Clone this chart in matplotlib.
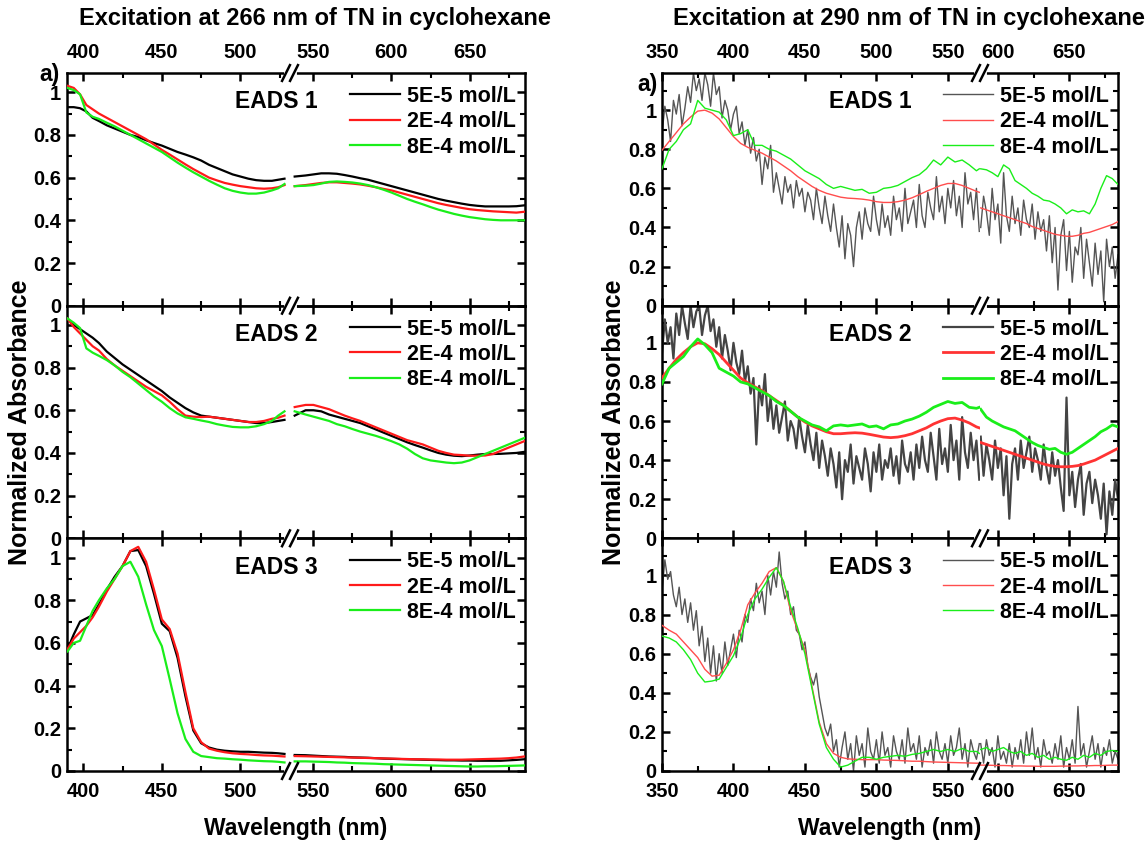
import numpy as np
import matplotlib
matplotlib.use("Agg")
import matplotlib.pyplot as plt
from matplotlib.lines import Line2D
from matplotlib.ticker import FixedLocator, MultipleLocator, FuncFormatter

plt.rcParams['font.family'] = ['Liberation Sans', 'DejaVu Sans']
plt.rcParams['font.weight'] = 'bold'

# ---------------------------------------------------------------------------
# Data: excitation at 266 nm (left column)
# ---------------------------------------------------------------------------
wl266_a = [390, 394, 398, 402, 406, 410, 415, 420, 425, 430, 435, 440, 445, 450, 455,
           460, 465, 470, 475, 480, 485, 490, 495, 500, 505, 510, 515, 520, 524, 528]
wl266_b = [538, 545, 550, 555, 560, 565, 570, 575, 580, 585, 590, 595, 600, 605, 610,
           615, 620, 625, 630, 635, 640, 645, 650, 655, 660, 665, 670, 675, 680, 685]

e1_266_c1_a = [.93, .93, .925, .91, .88, .865, .845, .83, .815, .80, .79, .775, .762, .75, .735,
               .72, .708, .695, .68, .66, .645, .63, .615, .605, .595, .588, .585, .585, .59, .595]
e1_266_c1_b = [.605, .61, .615, .62, .62, .618, .612, .605, .597, .59, .58, .57, .56, .55, .54,
               .53, .52, .51, .50, .492, .485, .478, .472, .468, .465, .465, .465, .465, .466, .47]
e1_266_c2_a = [1.03, 1.02, .99, .94, .92, .90, .88, .86, .84, .82, .80, .78, .755, .73, .708,
               .685, .662, .64, .62, .60, .587, .575, .567, .56, .555, .55, .548, .55, .555, .565]
e1_266_c2_b = [.56, .565, .57, .575, .578, .578, .575, .572, .568, .562, .555, .547, .54, .53, .52,
               .51, .50, .49, .48, .472, .465, .458, .452, .448, .445, .442, .44, .438, .436, .44]
e1_266_c3_a = [1.02, 1.01, .99, .905, .885, .875, .857, .84, .82, .80, .78, .76, .74, .72, .695,
               .67, .647, .625, .605, .585, .567, .55, .538, .53, .525, .525, .53, .54, .55, .57]
e1_266_c3_b = [.56, .562, .565, .572, .58, .582, .58, .577, .572, .565, .555, .543, .53, .515, .50,
               .487, .475, .462, .45, .44, .43, .422, .415, .41, .405, .402, .40, .40, .40, .40]

e2_266_c1_a = [1.03, 1.0, .98, .96, .94, .915, .875, .845, .815, .79, .765, .74, .715, .69, .66,
               .635, .61, .59, .575, .57, .565, .56, .555, .55, .545, .54, .54, .545, .55, .555]
e2_266_c1_b = [.575, .60, .60, .595, .58, .57, .56, .55, .54, .525, .51, .495, .48, .465, .45,
               .437, .425, .412, .40, .392, .387, .385, .388, .392, .395, .395, .396, .398, .40, .405]
e2_266_c2_a = [1.03, .99, .96, .93, .90, .88, .84, .81, .785, .76, .735, .71, .69, .67, .64,
               .605, .575, .57, .568, .57, .565, .56, .555, .55, .545, .545, .55, .56, .565, .575]
e2_266_c2_b = [.615, .625, .625, .615, .605, .59, .575, .562, .55, .535, .52, .505, .49, .475, .46,
               .45, .44, .425, .41, .40, .392, .39, .387, .387, .388, .395, .41, .425, .44, .455]
e2_266_c3_a = [1.03, 1.01, .985, .89, .87, .855, .835, .81, .78, .755, .725, .695, .665, .64, .61,
               .585, .567, .56, .552, .545, .535, .528, .522, .52, .52, .525, .535, .55, .575, .595]
e2_266_c3_b = [.595, .58, .57, .56, .55, .535, .525, .512, .50, .49, .48, .468, .455, .44, .42,
               .395, .375, .365, .36, .355, .352, .355, .365, .38, .395, .41, .425, .44, .455, .47]

e3_266_c1_a = [.57, .64, .70, .715, .73, .78, .85, .91, .96, 1.03, 1.035, .96, .83, .69, .655,
               .53, .35, .19, .13, .11, .10, .095, .092, .09, .09, .088, .086, .085, .083, .08]
e3_266_c1_b = [.075, .074, .072, .07, .068, .067, .066, .064, .063, .062, .06, .058, .057, .056, .055,
               .054, .053, .052, .051, .05, .05, .049, .049, .048, .048, .048, .048, .05, .052, .055]
e3_266_c2_a = [.57, .62, .65, .68, .72, .77, .84, .90, .96, 1.03, 1.05, .98, .85, .71, .665,
               .55, .37, .20, .135, .105, .095, .088, .083, .08, .078, .075, .073, .072, .07, .068]
e3_266_c2_b = [.07, .069, .068, .067, .066, .065, .064, .063, .062, .061, .06, .059, .058, .057, .056,
               .055, .055, .054, .054, .053, .053, .053, .054, .055, .056, .057, .058, .06, .063, .068]
e3_266_c3_a = [.56, .60, .61, .68, .75, .80, .855, .90, .96, .98, .91, .78, .66, .585, .43,
               .27, .15, .09, .07, .065, .06, .058, .055, .053, .05, .048, .046, .045, .043, .04]
e3_266_c3_b = [.045, .045, .044, .043, .042, .04, .039, .037, .036, .035, .034, .032, .031, .03, .029,
               .028, .027, .026, .025, .024, .023, .022, .021, .021, .022, .022, .023, .024, .025, .026]

# ---------------------------------------------------------------------------
# Data: excitation at 290 nm (right column)
# ---------------------------------------------------------------------------
wl290_a = [350, 355, 360, 365, 370, 375, 380, 385, 390, 395, 400, 405, 410, 415, 420, 425,
           430, 435, 440, 445, 450, 455, 460, 465, 470, 475, 480, 485, 490, 495, 500, 505,
           510, 515, 520, 525, 530, 535, 540, 545, 550, 555, 560, 565, 570, 572]
wl290_b = [588, 592, 596, 600, 604, 608, 612, 616, 620, 624, 628, 632, 636, 640, 644, 648,
           652, 656, 660, 664, 668, 672, 676, 680, 684]

e1_290_c2_a = [.795, .84, .885, .93, .965, .995, 1.0, .985, .955, .91, .865, .83, .81, .795, .78, .76,
               .74, .715, .69, .66, .635, .61, .59, .575, .565, .555, .55, .548, .545, .54, .532, .528,
               .528, .532, .54, .552, .568, .585, .60, .615, .625, .625, .615, .60, .585, .58]
e1_290_c2_b = [.50, .49, .48, .47, .46, .45, .44, .43, .42, .405, .395, .385, .375, .365, .36, .355,
               .355, .36, .37, .375, .385, .395, .405, .415, .43]
e1_290_c3_a = [.70, .80, .84, .90, .93, 1.05, 1.01, 1.0, .99, .95, .87, .88, .90, .82, .82, .80,
               .79, .77, .75, .72, .69, .67, .65, .62, .60, .61, .60, .59, .595, .575, .58, .60,
               .605, .615, .635, .655, .67, .70, .745, .72, .76, .735, .745, .72, .69, .70]
e1_290_c3_b = [.70, .695, .68, .66, .72, .70, .64, .62, .60, .575, .56, .54, .535, .52, .50, .47,
               .49, .48, .485, .47, .52, .60, .665, .65, .62]

e2_290_c2_a = [.82, .87, .915, .95, .98, 1.0, .995, .97, .94, .90, .86, .82, .795, .775, .755, .73,
               .705, .68, .65, .62, .595, .575, .56, .545, .535, .535, .538, .54, .538, .532, .525, .518,
               .515, .518, .525, .535, .55, .565, .585, .60, .612, .615, .605, .59, .57, .565]
e2_290_c2_b = [.49, .48, .47, .46, .45, .44, .43, .42, .41, .40, .39, .38, .373, .368, .366, .366,
               .368, .372, .38, .39, .40, .415, .43, .445, .46]
e2_290_c3_a = [.79, .87, .90, .93, .98, 1.02, .99, .95, .87, .85, .83, .80, .79, .77, .75, .73,
               .70, .68, .65, .62, .60, .58, .57, .55, .575, .58, .575, .58, .585, .57, .575, .56,
               .58, .585, .60, .61, .625, .645, .67, .685, .70, .69, .695, .67, .665, .67]
e2_290_c3_b = [.66, .62, .60, .585, .57, .56, .55, .53, .51, .49, .475, .465, .455, .46, .44, .43,
               .44, .46, .48, .50, .52, .545, .56, .58, .57]

e3_290_c2_a = [.745, .72, .70, .66, .62, .58, .52, .485, .49, .55, .62, .72, .85, .91, .96, 1.02,
               1.04, .97, .82, .72, .62, .43, .25, .14, .09, .07, .062, .06, .058, .058, .058, .056,
               .055, .054, .052, .05, .05, .048, .046, .045, .044, .043, .042, .041, .04, .04]
e3_290_c2_b = [.03, .03, .029, .028, .028, .027, .026, .026, .025, .025, .024, .024, .024, .024, .025, .025,
               .026, .026, .027, .027, .028, .028, .029, .03, .03]
e3_290_c3_a = [.69, .68, .66, .62, .57, .50, .455, .46, .47, .53, .59, .68, .80, .88, .93, .99,
               1.04, .97, .84, .73, .60, .42, .24, .12, .06, .02, .03, .05, .07, .07, .06, .07,
               .075, .08, .075, .085, .09, .10, .11, .10, .11, .10, .115, .10, .10, .09]
e3_290_c3_b = [.11, .12, .10, .11, .12, .10, .09, .10, .08, .09, .07, .08, .06, .07, .06, .055,
               .07, .06, .08, .07, .09, .08, .10, .105, .10]

# Dilute traces (5E-5 mol/L), sampled every 2 nm from 350 nm and from 588 nm
e1_290_c1_a = [.88, 1.02, .95, .84, 1.05, .98, 1.08, .92, 1.01, 1.12,
               1.04, 1.19, 1.10, 1.16, 1.05, 1.19, 1.13, 1.02, 1.19, 1.08,
               1.12, .96, 1.05, 1.00, .90, .98, 1.02, .88, .94, .82,
               .90, .78, .86, .74, .80, .62, .76, .70, .82, .58,
               .68, .60, .52, .66, .58, .62, .50, .64, .56, .60,
               .48, .58, .54, .44, .60, .50, .42, .56, .46, .38,
               .52, .40, .30, .46, .24, .42, .36, .20, .40, .48,
               .34, .50, .42, .38, .56, .44, .36, .52, .40, .46,
               .36, .56, .44, .50, .38, .60, .42, .48, .54, .40,
               .62, .46, .40, .58, .50, .44, .66, .48, .56, .42,
               .60, .50, .64, .46, .56, .40, .68, .52, .58, .44,
               .60, .38]
e1_290_c1_b = [.40, .56, .48, .36, .60, .44, .52, .32, .68, .46,
               .38, .56, .42, .50, .36, .54, .44, .40, .52, .34,
               .48, .38, .44, .28, .46, .22, .40, .08, .36, .44,
               .18, .38, .12, .30, .26, .40, .14, .34, .22, .10,
               .32, .16, .28, .02, .34, .20, .30, .14, .26]
e2_290_c1_a = [.95, 1.12, 1.00, 1.08, .92, 1.15, 1.04, 1.19, 1.10, 1.02,
               1.19, 1.08, 1.16, 1.19, 1.04, 1.14, 1.19, 1.06, 1.12, .98,
               1.08, .92, 1.04, .96, .86, 1.00, .90, .84, .96, .80,
               .88, .74, .82, .48, .78, .68, .84, .60, .72, .56,
               .68, .54, .62, .70, .50, .60, .56, .46, .62, .52,
               .44, .58, .48, .40, .54, .36, .50, .42, .32, .46,
               .38, .26, .44, .20, .40, .34, .48, .28, .42, .36,
               .30, .46, .38, .24, .44, .34, .48, .30, .40, .36,
               .46, .32, .42, .28, .50, .38, .34, .44, .30, .48,
               .36, .52, .40, .34, .54, .42, .30, .56, .38, .46,
               .34, .58, .40, .50, .30, .62, .44, .36, .54, .40,
               .50, .30]
e2_290_c1_b = [.52, .32, .48, .40, .30, .50, .36, .46, .22, .42,
               .10, .38, .46, .30, .50, .36, .44, .52, .34, .46,
               .40, .30, .48, .36, .28, .44, .32, .40, .26, .14,
               .72, .22, .34, .16, .30, .38, .12, .28, .34, .18,
               .30, .22, .10, .28, .02, .24, .12, .30, .20]
e3_290_c1_a = [.92, 1.08, .98, 1.02, .90, .84, .94, .80, .88, .76,
               .86, .72, .82, .64, .74, .56, .68, .50, .64, .46,
               .60, .50, .66, .54, .62, .70, .58, .72, .66, .80,
               .76, .88, .82, .96, .86, .92, .80, 1.00, .90, 1.02,
               .94, 1.12, .96, .88, .92, .80, .84, .72, .70, .62,
               .66, .54, .48, .44, .50, .38, .30, .22, .18, .24,
               .10, .16, .02, .12, .20, .06, .14, .00, .18, .08,
               .14, .02, .22, .10, .06, .16, .04, .20, .08, .12,
               .02, .18, .10, .06, .16, .04, .22, .10, .14, .06,
               .18, .02, .12, .08, .16, .04, .20, .10, .06, .14,
               .04, .18, .08, .12, .22, .06, .14, .02, .16, .10,
               .06, .14]
e3_290_c1_b = [.14, .04, .16, .08, .12, .02, .18, .06, .10, .04,
               .14, .02, .12, .06, .16, .04, .20, .08, .22, .06,
               .12, .02, .16, .08, .10, .04, .14, .06, .18, .02,
               .12, .06, .16, .04, .33, .08, .14, .02, .10, .18,
               .06, .14, .02, .12, .08, .16, .04, .10, .06]

conc_labels = ['5E-5 mol/L', '2E-4 mol/L', '8E-4 mol/L']
panel_names = ['EADS 1', 'EADS 2', 'EADS 3']
yticks = [0, 0.2, 0.4, 0.6, 0.8, 1]

# ---------------------------------------------------------------------------
# Figure layout (pixel geometry of a 1146 x 841 canvas)
# ---------------------------------------------------------------------------
W, H = 1146, 841
fig = plt.figure(figsize=(W / 100, H / 100), dpi=100)


def fx(px):
    return px / W


def fy(py):
    return 1 - py / H


row_edges = [73, 305.7, 538.3, 771]

RED = '#ff1a1a'
GREEN = '#1aee1a'

columns = [
    dict(x0=66.7, xb=290, x1=525, lim_a=(389.5, 531.5), lim_b=(535, 685.5), ymax=1.09,
         maj_a=[400, 450, 500], min_a=[425, 475, 525], maj_b=[550, 600, 650], min_b=[575, 625, 675],
         title='Excitation at 266 nm of TN in cyclohexane', title_x=315, ylab_x=20, a_pos=(50, 75),
         eads_x=276, leg_x=350,
         wl_a=wl266_a, wl_b=wl266_b,
         series=[[(e1_266_c1_a, e1_266_c1_b), (e1_266_c2_a, e1_266_c2_b), (e1_266_c3_a, e1_266_c3_b)],
                 [(e2_266_c1_a, e2_266_c1_b), (e2_266_c2_a, e2_266_c2_b), (e2_266_c3_a, e2_266_c3_b)],
                 [(e3_266_c1_a, e3_266_c1_b), (e3_266_c2_a, e3_266_c2_b), (e3_266_c3_a, e3_266_c3_b)]],
         colors=[['black', RED, GREEN]] * 3,
         widths=[[1.6, 1.6, 1.6]] * 3),
    dict(x0=662, xb=980, x1=1118, lim_a=(350, 572.5), lim_b=(587.5, 684), ymax=1.19,
         maj_a=[350, 400, 450, 500, 550], min_a=[375, 425, 475, 525], maj_b=[600, 650], min_b=[625, 675],
         title='Excitation at 290 nm of TN in cyclohexane', title_x=909, ylab_x=614, a_pos=(647, 85),
         eads_x=870, leg_x=943,
         wl_a=wl290_a, wl_b=wl290_b,
         series=[[(e1_290_c1_a, e1_290_c1_b), (e1_290_c2_a, e1_290_c2_b), (e1_290_c3_a, e1_290_c3_b)],
                 [(e2_290_c1_a, e2_290_c1_b), (e2_290_c2_a, e2_290_c2_b), (e2_290_c3_a, e2_290_c3_b)],
                 [(e3_290_c1_a, e3_290_c1_b), (e3_290_c2_a, e3_290_c2_b), (e3_290_c3_a, e3_290_c3_b)]],
         colors=[['#555555', '#ff4d4d', GREEN], ['#444444', '#ff3333', GREEN], ['#555555', '#ff4d4d', GREEN]],
         widths=[[1.0, 1.0, 1.0], [1.6, 2.0, 2.0], [1.0, 1.0, 1.0]]),
]

TICK_FS = 14.5
LEG_FS = 15.5
EADS_FS = 16.5
TITLE_FS = 17
XLAB_FS = 16.5
YLAB_FS = 18


def dilute_grid(start, values):
    # the dilute traces are sampled on a regular 2 nm grid
    return start + 2 * np.arange(len(values))


def break_mark(xb, yb):
    # white gap in the spine plus the two slanted strokes of "//"
    c1, c2 = xb - 4, xb + 4
    fig.add_artist(Line2D([fx(c1), fx(c2)], [fy(yb), fy(yb)], color='white', lw=3.5, zorder=20))
    for c in (c1, c2):
        fig.add_artist(Line2D([fx(c - 4.5), fx(c + 4.5)], [fy(yb + 9), fy(yb - 9)],
                              color='black', lw=1.8, zorder=21, solid_capstyle='butt'))


def style_axis(ax, lim, majors, minors, ymax, side, row):
    ax.set_xlim(*lim)
    ax.set_ylim(0, ymax)
    ax.xaxis.set_major_locator(FixedLocator(majors))
    ax.xaxis.set_minor_locator(FixedLocator(minors))
    ax.yaxis.set_major_locator(FixedLocator(yticks))
    ax.yaxis.set_minor_locator(MultipleLocator(0.1))
    ax.yaxis.set_major_formatter(FuncFormatter(lambda v, p: f'{v:g}'))
    for s in ax.spines.values():
        s.set_linewidth(1.8)
    if side == 'a':
        ax.spines['right'].set_visible(False)
    else:
        ax.spines['left'].set_visible(False)
        ax.patch.set_alpha(0)
    ax.tick_params(which='both', direction='in', top=True, bottom=True,
                   left=(side == 'a'), right=(side == 'b'),
                   labelleft=(side == 'a'), labelright=False,
                   labeltop=(row == 0), labelbottom=(row == 2),
                   labelsize=TICK_FS)
    ax.tick_params(which='major', length=6, width=1.8)
    ax.tick_params(which='minor', length=3.5, width=1.5)
    ax.tick_params(axis='x', which='major', pad=8)
    ax.tick_params(axis='y', which='major', pad=4)
    for lab in ax.get_xticklabels() + ax.get_yticklabels():
        lab.set_fontweight('bold')


for col in columns:
    for row in range(3):
        top, bot = row_edges[row], row_edges[row + 1]
        ax_a = fig.add_axes([fx(col['x0']), fy(bot), fx(col['xb']) - fx(col['x0']), fy(top) - fy(bot)])
        ax_b = fig.add_axes([fx(col['xb']), fy(bot), fx(col['x1']) - fx(col['xb']), fy(top) - fy(bot)])
        style_axis(ax_a, col['lim_a'], col['maj_a'], col['min_a'], col['ymax'], 'a', row)
        style_axis(ax_b, col['lim_b'], col['maj_b'], col['min_b'], col['ymax'], 'b', row)

        handles = []
        for k, (ya, yb) in enumerate(col['series'][row]):
            color = col['colors'][row][k]
            lw = col['widths'][row][k]
            if len(ya) == len(col['wl_a']):
                xa, xb_ = col['wl_a'], col['wl_b']
            else:
                xa, xb_ = dilute_grid(350, ya), dilute_grid(588, yb)
            ax_a.plot(xa, ya, color=color, lw=lw, zorder=2 + k)
            ax_b.plot(xb_, yb, color=color, lw=lw, zorder=2 + k)
            handles.append(Line2D([], [], color=color, lw=lw))

        ax_b.legend(handles, conc_labels, loc='upper left',
                    bbox_to_anchor=(fx(col['leg_x']), fy(top + 13)), bbox_transform=fig.transFigure,
                    frameon=False, borderpad=0, borderaxespad=0, handlelength=2.3,
                    handletextpad=0.33, labelspacing=0.2,
                    prop=dict(size=LEG_FS, weight='bold'))

        fig.text(fx(col['eads_x']), fy(top + 29), panel_names[row], ha='center', va='center',
                 fontsize=EADS_FS, fontweight='bold')

    for yb in row_edges:
        break_mark(col['xb'], yb)

    fig.text(fx(col['title_x']), fy(18), col['title'], ha='center', va='center',
             fontsize=TITLE_FS, fontweight='bold')
    fig.text(fx(col['ylab_x']), fy(422), 'Normalized Absorbance',
             rotation=90, ha='center', va='center', fontsize=YLAB_FS, fontweight='bold')
    fig.text(fx((col['x0'] + col['x1']) / 2), fy(828), 'Wavelength (nm)', ha='center', va='center',
             fontsize=XLAB_FS, fontweight='bold')
    fig.text(fx(col['a_pos'][0]), fy(col['a_pos'][1]), 'a)', ha='center', va='center',
             fontsize=EADS_FS, fontweight='bold')

fig.savefig('out.png', dpi=100)
